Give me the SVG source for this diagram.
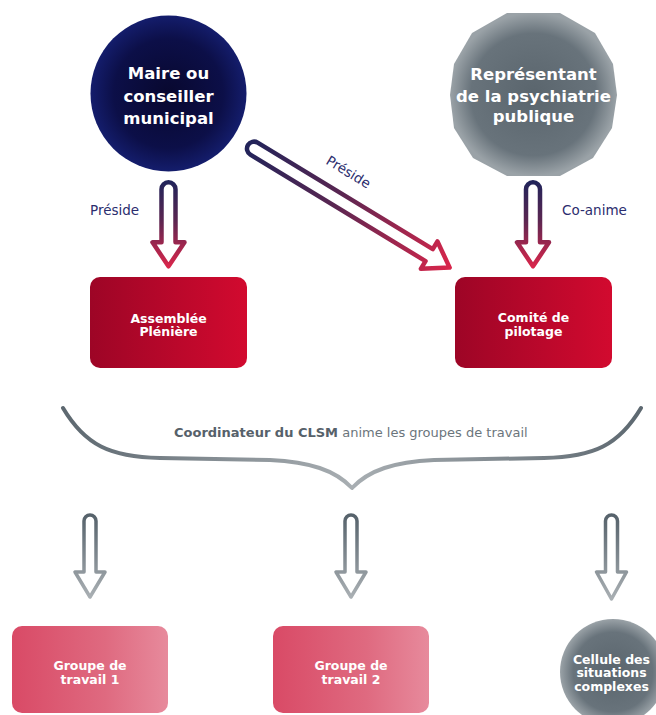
<svg xmlns="http://www.w3.org/2000/svg" width="656" height="715" viewBox="0 0 656 715">
<defs>
<radialGradient id="gNavy" cx="0.5" cy="0.5" r="0.5">
<stop offset="0" stop-color="#08082f"/>
<stop offset="0.7" stop-color="#0c0f48"/>
<stop offset="1" stop-color="#141d6c"/>
</radialGradient>
<radialGradient id="gGray" cx="0.5" cy="0.5" r="0.5">
<stop offset="0" stop-color="#5a656d"/>
<stop offset="0.75" stop-color="#68737b"/>
<stop offset="1" stop-color="#9aa2a7"/>
</radialGradient>
<linearGradient id="gRed" x1="0" y1="0" x2="1" y2="0">
<stop offset="0" stop-color="#9d0526"/>
<stop offset="1" stop-color="#d20a2f"/>
</linearGradient>
<linearGradient id="gPink" x1="0" y1="0" x2="1" y2="0">
<stop offset="0" stop-color="#d94a66"/>
<stop offset="0.6" stop-color="#df6a80"/>
<stop offset="1" stop-color="#e78a9c"/>
</linearGradient>
<linearGradient id="gArrowRed" x1="0" y1="0" x2="0" y2="1">
<stop offset="0" stop-color="#22245a"/>
<stop offset="0.45" stop-color="#5a2651"/>
<stop offset="1" stop-color="#d8264b"/>
</linearGradient>
<linearGradient id="gArrowGray" x1="0" y1="0" x2="0" y2="1">
<stop offset="0" stop-color="#56626b"/>
<stop offset="1" stop-color="#a9afb3"/>
</linearGradient>
<linearGradient id="gBrace" x1="0" y1="0" x2="1" y2="0">
<stop offset="0" stop-color="#5d6870"/>
<stop offset="0.5" stop-color="#a8aeb2"/>
<stop offset="1" stop-color="#5d6870"/>
</linearGradient>
</defs>
<style>
.t{font-family:"DejaVu Sans","Liberation Sans",sans-serif;}
.big{font-size:16.5px;font-weight:bold;fill:#ffffff;text-anchor:middle;}
.box{font-size:12.5px;font-weight:bold;fill:#ffffff;text-anchor:middle;}
.lab{font-size:13.5px;fill:#2b2d6e;}
.ar{fill:#ffffff;stroke:url(#gArrowRed);stroke-width:4.5;stroke-linejoin:round;}
.ag{fill:#ffffff;stroke:url(#gArrowGray);stroke-width:3.5;stroke-linejoin:round;}
</style>
<rect width="656" height="715" fill="#ffffff"/>

<g id="connectors">
<path class="ar" transform="translate(168.5,182.3)" d="M -7 7 A 7 7 0 0 1 7 7 V 60 H 16 L 0 84 L -16 60 H -7 Z"/>
<path class="ar" transform="translate(533,182.3)" d="M -7 7 A 7 7 0 0 1 7 7 V 60 H 16 L 0 84 L -16 60 H -7 Z"/>
<path class="ar" transform="translate(248,145) rotate(-58.7)" d="M -7 7 A 7 7 0 0 1 7 7 V 212 H 16 L 0 236 L -16 212 H -7 Z"/>
<text class="t lab" x="90" y="215">Préside</text>
<text class="t lab" x="562" y="215">Co-anime</text>
<text class="t lab" x="346" y="176" text-anchor="middle" transform="rotate(31.3 346 176)">Préside</text>
<path d="M 63 408 C 85 445 110 457 160 458 L 270 460 C 310 462 335 470 352 488 C 369 470 394 462 434 460 L 544 458 C 594 457 619 445 641 408" fill="none" stroke="url(#gBrace)" stroke-width="4" stroke-linecap="round" stroke-linejoin="round"/>
<text class="t" x="174" y="437" font-size="13"><tspan font-weight="bold" fill="#56616a">Coordinateur du CLSM</tspan><tspan fill="#6b757c"> anime les groupes de travail</tspan></text>
<path class="ag" transform="translate(90,515)" d="M -6 6 A 6 6 0 0 1 6 6 V 57 H 15 L 0 82 L -15 57 H -6 Z"/>
<path class="ag" transform="translate(351,515)" d="M -6 6 A 6 6 0 0 1 6 6 V 57 H 15 L 0 82 L -15 57 H -6 Z"/>
<path class="ag" transform="translate(611.5,515)" d="M -6 6 A 6 6 0 0 1 6 6 V 57 H 15 L 0 84 L -15 57 H -6 Z"/>
</g>

<g id="maire">
<circle cx="168.5" cy="93.5" r="78" fill="url(#gNavy)"/>
<text class="t big" x="168.5" y="79">Maire ou</text>
<text class="t big" x="168.5" y="101.5">conseiller</text>
<text class="t big" x="168.5" y="123.5">municipal</text>
</g>

<g id="psychiatrie">
<polygon points="507,13 560,13 595,33 613,64 617,95 612,128 593,158 560,176 507,176 473,158 454,128 450,95 454,64 472,33" fill="url(#gGray)"/>
<text class="t big" x="533.5" y="80">Représentant</text>
<text class="t big" x="533.5" y="101.5">de la psychiatrie</text>
<text class="t big" x="533.5" y="122">publique</text>
</g>

<g id="assemblee">
<rect x="90" y="277" width="157" height="91" rx="10" fill="url(#gRed)"/>
<text class="t box" x="168.5" y="322.5">Assemblée</text>
<text class="t box" x="168.5" y="336">Plénière</text>
</g>

<g id="comite">
<rect x="455" y="277" width="157" height="91" rx="10" fill="url(#gRed)"/>
<text class="t box" x="533.5" y="322">Comité de</text>
<text class="t box" x="533.5" y="336">pilotage</text>
</g>

<g id="groupe1">
<rect x="12" y="626" width="156" height="87" rx="10" fill="url(#gPink)"/>
<text class="t box" x="90" y="670">Groupe de</text>
<text class="t box" x="90" y="683.5">travail 1</text>
</g>

<g id="groupe2">
<rect x="273" y="626" width="156" height="87" rx="10" fill="url(#gPink)"/>
<text class="t box" x="351" y="670">Groupe de</text>
<text class="t box" x="351" y="683.5">travail 2</text>
</g>

<g id="cellule">
<circle cx="613" cy="672" r="53" fill="url(#gGray)"/>
<text class="t box" x="611.5" y="663.5">Cellule des</text>
<text class="t box" x="611.5" y="677">situations</text>
<text class="t box" x="611.5" y="690.5">complexes</text>
</g>
</svg>
